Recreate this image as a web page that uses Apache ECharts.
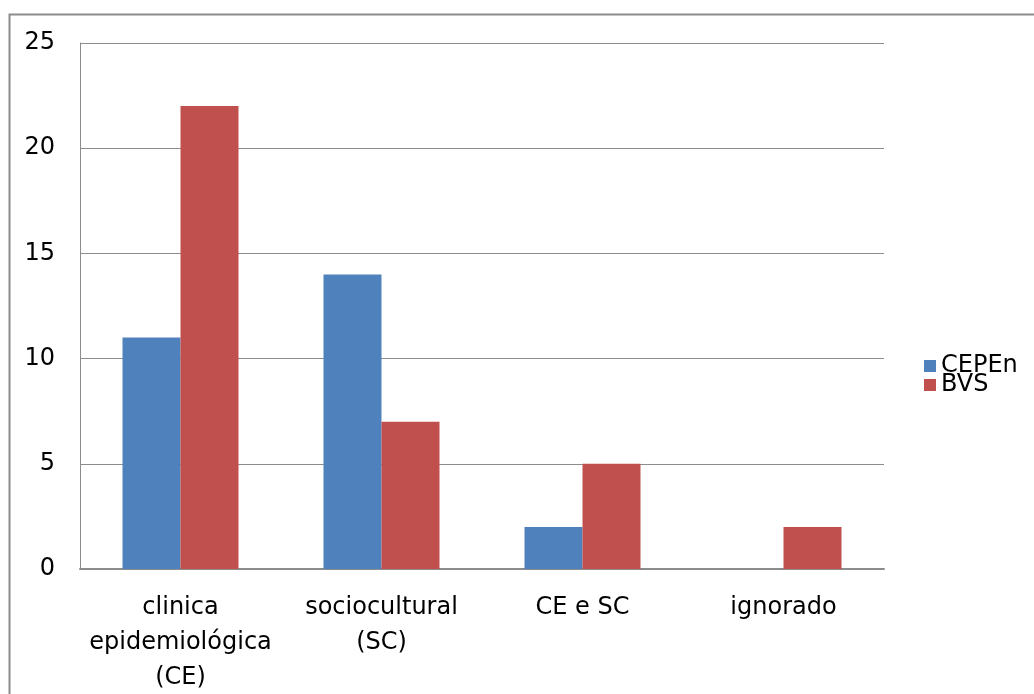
<!DOCTYPE html>
<html><head><meta charset="utf-8">
<script src="https://cdn.jsdelivr.net/npm/echarts@6/dist/echarts.min.js"></script>
<style>html,body{margin:0;padding:0;background:#fff;}#c{width:1034px;height:694px;}</style>
</head><body><div id="c"></div>
<script>
const categories = ['clinica\nepidemiológica\n(CE)', 'sociocultural\n(SC)', 'CE e SC', 'ignorado'];
const cepen = [11, 14, 2, 0];
const bvs = [22, 7, 5, 2];
const yTicks = {min: 0, max: 25, interval: 5};

const chart = echarts.init(document.getElementById('c'));
const font = 'DejaVu Sans';
chart.setOption({
  animation: false,
  graphic: [{type: 'rect', shape: {x: 9.5, y: 14.5, width: 1100, height: 800}, style: {fill: 'none', stroke: '#8c8c8c', lineWidth: 2}, silent: true}],
  grid: {left: 80, right: 150, top: 43, bottom: 125, outerBoundsMode: 'none', containLabel: false},
  legend: {
    orient: 'vertical', left: 919, top: 349, itemWidth: 12, itemHeight: 12, itemGap: -5,
    icon: 'rect', itemStyle: {borderWidth: 0},
    textStyle: {fontFamily: font, fontSize: 24, color: '#000', lineHeight: 21},
    data: ['CEPEn', 'BVS']
  },
  xAxis: {
    type: 'category', data: categories,
    axisLine: {lineStyle: {color: '#8c8c8c', width: 2}},
    axisTick: {show: false},
    axisLabel: {fontFamily: font, fontSize: 24, color: '#000', lineHeight: 35, margin: 21, interval: 0}
  },
  yAxis: {
    type: 'value', min: yTicks.min, max: yTicks.max, interval: yTicks.interval,
    axisLine: {show: true, lineStyle: {color: '#8c8c8c', width: 1}},
    axisTick: {show: false},
    splitLine: {lineStyle: {color: '#8c8c8c', width: 1}},
    axisLabel: {fontFamily: font, fontSize: 24, color: '#000', margin: 25}
  },
  series: [
    {name: 'CEPEn', type: 'bar', data: cepen, barWidth: 58, barGap: '0%',
     itemStyle: {color: '#4F81BD'}},
    {name: 'BVS', type: 'bar', data: bvs, barWidth: 58, barGap: '0%',
     itemStyle: {color: '#C0504D'}}
  ]
});
</script></body></html>
